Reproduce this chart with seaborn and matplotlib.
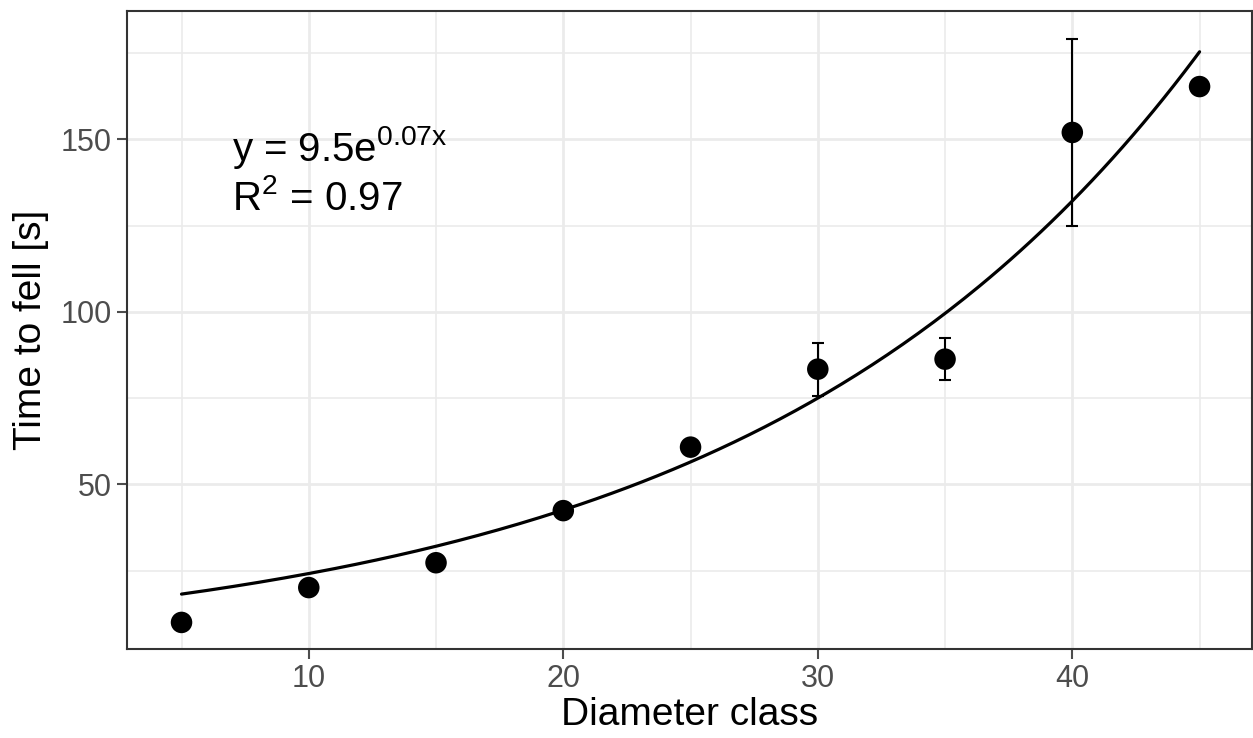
import numpy as np
import pandas as pd
import matplotlib
matplotlib.use("Agg")
import matplotlib.pyplot as plt
import seaborn as sns

# ---- data ----
diameter_class = [5, 10, 15, 20, 25, 30, 35, 40, 45]
time_to_fell = [10.0, 20.1, 27.3, 42.4, 60.8, 83.4, 86.3, 152.0, 165.3]
error_half = [0, 0, 0, 0, 0, 7.7, 6.0, 27.0, 0]

x_ticks = [10, 20, 30, 40]
y_ticks = [50, 100, 150]
x_label = "Diameter class"
y_label = "Time to fell [s]"
eq_text = r"y = 9.5e$^{0.07x}$"
r2_text = r"R$^{2}$ = 0.97"

sns.set_theme(style="white")
plt.rcParams["font.family"] = ["Liberation Sans", "DejaVu Sans"]
plt.rcParams["mathtext.default"] = "regular"

df = pd.DataFrame({"x": diameter_class, "y": time_to_fell, "err": error_half})

# ---- nonlinear least squares fit y = a*exp(b*x) (Gauss-Newton) ----
xv = np.asarray(diameter_class, float)
yv = np.asarray(time_to_fell, float)
b, loga = np.polyfit(xv, np.log(yv), 1)
a = np.exp(loga)
for _ in range(200):
    f = a * np.exp(b * xv)
    J = np.column_stack([np.exp(b * xv), a * xv * np.exp(b * xv)])
    r = yv - f
    step, *_ = np.linalg.lstsq(J, r, rcond=None)
    a += step[0]
    b += step[1]
    if np.abs(step).max() < 1e-10:
        break
xfit = np.linspace(min(diameter_class), max(diameter_class), 200)
fit_df = pd.DataFrame({"x": xfit, "y": a * np.exp(b * xfit)})

fig = plt.figure(figsize=(12.53, 7.38), dpi=100)
ax = fig.add_axes([0.1014, 0.1206, 0.8976, 0.8645])

# grid (ggplot theme_bw style)
ax.set_axisbelow(True)
for v in [5, 15, 25, 35, 45]:
    ax.axvline(v, color="#EBEBEB", lw=1.2, zorder=0)
for v in [25, 75, 125, 175]:
    ax.axhline(v, color="#EBEBEB", lw=1.2, zorder=0)
for v in x_ticks:
    ax.axvline(v, color="#EBEBEB", lw=2.0, zorder=0)
for v in y_ticks:
    ax.axhline(v, color="#EBEBEB", lw=2.0, zorder=0)

eb = df[df["err"] > 0]
ax.errorbar(eb["x"], eb["y"], yerr=eb["err"], fmt="none", ecolor="black",
            elinewidth=1.5, capsize=4, capthick=1.5, zorder=2)
sns.lineplot(data=fit_df, x="x", y="y", color="black", lw=2.3, ax=ax, zorder=3)
sns.scatterplot(data=df, x="x", y="y", color="black", s=240, edgecolor="none",
                ax=ax, zorder=4)

ax.text(7.0, 143.7, eq_text, fontsize=29, color="black", ha="left", va="baseline")
ax.text(7.0, 129.4, r2_text, fontsize=29, color="black", ha="left", va="baseline")

ax.set_xlim(2.86, 47.05)
ax.set_ylim(2.3, 187.2)
ax.set_xticks(x_ticks)
ax.set_yticks(y_ticks)
ax.set_xlabel(x_label, fontsize=28, color="black", labelpad=2)
ax.set_ylabel(y_label, fontsize=28, color="black", labelpad=8)
ax.tick_params(axis="both", labelsize=22, colors="#4D4D4D", length=7, width=1.5,
               direction="out", left=True, bottom=True, pad=4)
for s in ax.spines.values():
    s.set_color("#333333")
    s.set_linewidth(1.5)
    s.set_visible(True)

fig.savefig("out.png", dpi=100)
